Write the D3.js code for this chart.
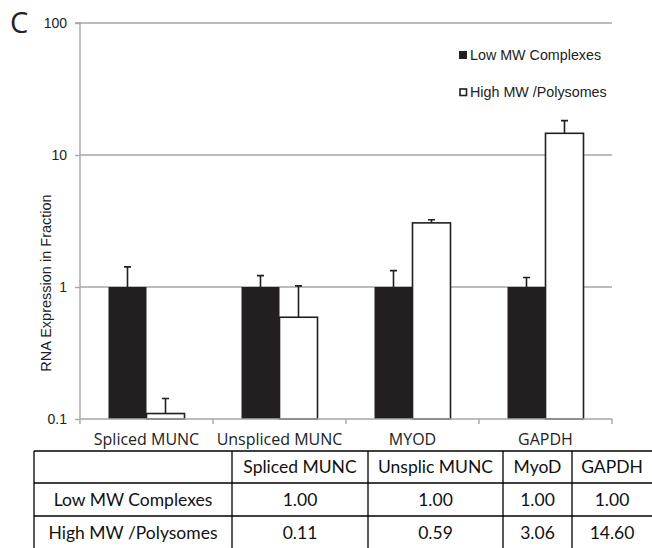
<!DOCTYPE html>
<html><head><meta charset="utf-8">
<script src="https://cdn.jsdelivr.net/npm/d3@7"></script>
<style>body{margin:0;background:#fff}svg{display:block}</style>
</head><body>
<svg id="c" width="652" height="548"></svg>
<script>
const categories = ["Spliced MUNC","Unspliced MUNC","MYOD","GAPDH"];
const seriesNames = ["Low MW Complexes","High MW /Polysomes"];
const lowValues = [1.00,1.00,1.00,1.00];
const highValues = [0.11,0.59,3.06,14.60];
const lowErrors = [0.42,0.22,0.33,0.18];
const highErrors = [0.033,0.43,0.17,3.6];
const yTicks = [0.1,1,10,100];
const tableHeaders = ["Spliced MUNC","Unsplic MUNC","MyoD","GAPDH"];

const svg = d3.select("#c");
const L=80,R=612,T=23,B=419;
const y = d3.scaleLog().domain([0.1,100]).range([B,T]);
const x0 = d3.scaleBand().domain(categories).range([L,R]).padding(0);
const x1 = d3.scaleBand().domain(seriesNames).range([0,x0.bandwidth()]).paddingInner(0).paddingOuter(0.75);
const grey="#a6a6a6";

// panel letter
svg.append("text").attr("x",10).attr("y",33).attr("font-family","Open Sans").attr("font-size",29).attr("fill","#222").text("C");

// gridlines
svg.append("g").selectAll("line").data(yTicks.slice(1)).join("line")
  .attr("x1",L).attr("x2",R).attr("y1",d=>y(d)).attr("y2",d=>y(d))
  .attr("stroke",grey).attr("stroke-width",1.4);

// y axis
const yAxis = d3.axisLeft(y).tickValues(yTicks).tickFormat(d=>String(d)).tickSize(5).tickPadding(8);
const gy = svg.append("g").attr("transform",`translate(${L},0)`).call(yAxis);
gy.select(".domain").attr("stroke",grey).attr("stroke-width",1.4).attr("d",`M-5,${T}H0V${B}`);
gy.selectAll(".tick line").attr("stroke",grey).attr("stroke-width",1.4);
gy.selectAll(".tick text").attr("font-family","Liberation Sans").attr("font-size",14).attr("fill","#222");

svg.append("text").attr("transform",`translate(51,${(193+373)/2}) rotate(-90)`)
  .attr("text-anchor","middle").attr("font-family","Liberation Sans").attr("font-size",14.5).attr("fill","#222")
  .text("RNA Expression in Fraction");

// bars
const data = categories.map((c,i)=>({c, vals:[
  {s:seriesNames[0], v:lowValues[i], e:lowErrors[i]},
  {s:seriesNames[1], v:highValues[i], e:highErrors[i]}]}));
const g = svg.append("g").selectAll("g").data(data).join("g").attr("transform",d=>`translate(${x0(d.c)},0)`);
g.selectAll("rect").data(d=>d.vals).join("rect")
  .attr("x",d=>x1(d.s)).attr("width",x1.bandwidth())
  .attr("y",d=>y(d.v)).attr("height",d=>B-y(d.v))
  .attr("fill",(d,i)=>i===0?"#231f20":"#fff")
  .attr("stroke",(d,i)=>i===0?"none":"#231f20").attr("stroke-width",1.6);
// error bars
g.selectAll("path.err").data(d=>d.vals).join("path").attr("class","err")
  .attr("d",d=>{const cx=x1(d.s)+x1.bandwidth()/2, yt=y(d.v+d.e); return `M${cx},${y(d.v)}V${yt}M${cx-3.5},${yt}H${cx+3.5}`;})
  .attr("stroke","#231f20").attr("stroke-width",1.6).attr("fill","none");

// x axis
const gx = svg.append("g").attr("transform",`translate(0,${B})`);
gx.append("line").attr("x1",L).attr("x2",R).attr("stroke",grey).attr("stroke-width",1.6);
gx.selectAll("line.t").data(categories.concat([null])).join("line").attr("class","t")
  .attr("x1",(d,i)=>L+i*x0.step()).attr("x2",(d,i)=>L+i*x0.step()).attr("y1",0).attr("y2",5)
  .attr("stroke",grey).attr("stroke-width",1.4);
gx.selectAll("text").data(categories).join("text")
  .attr("x",d=>x0(d)+x0.bandwidth()/2).attr("y",25.5).attr("text-anchor","middle")
  .attr("font-family","Open Sans").attr("font-size",16).attr("fill","#222").text(d=>d);

// legend
const lg = svg.append("g");
seriesNames.forEach((s,i)=>{
  const yy = 51 + i*37;
  lg.append("rect").attr("x",i===0?459:460).attr("y",i===0?yy:yy+1).attr("width",i===0?8:6.5).attr("height",i===0?8:6.5)
    .attr("fill",i===0?"#231f20":"#fff").attr("stroke",i===0?"none":"#231f20").attr("stroke-width",1.6);
  lg.append("text").attr("x",470).attr("y",yy+9).attr("font-family","Liberation Sans").attr("font-size",14.3).attr("fill","#222").text(s);
});

// table
const colX = [34,232,368,503,572,660];
const rowY = [451,483,516,549];
const tg = svg.append("g");
rowY.forEach(r=>tg.append("line").attr("x1",colX[0]).attr("x2",colX[5]).attr("y1",r).attr("y2",r).attr("stroke","#000").attr("stroke-width",1.3));
colX.forEach((c,i)=>tg.append("line").attr("x1",c).attr("x2",c).attr("y1",rowY[i===0?1:0]).attr("y2",rowY[3]).attr("stroke","#000").attr("stroke-width",1.3));
tg.append("line").attr("x1",colX[0]).attr("x2",colX[0]).attr("y1",rowY[0]).attr("y2",rowY[1]).attr("stroke","#000").attr("stroke-width",1.3);
const cells = [];
tableHeaders.forEach((h,j)=>cells.push({r:0,c:j+1,t:h}));
[lowValues,highValues].forEach((vals,i)=>{
  cells.push({r:i+1,c:0,t:seriesNames[i]});
  vals.forEach((v,j)=>cells.push({r:i+1,c:j+1,t:v.toFixed(2)}));
});
tg.selectAll("text").data(cells).join("text")
  .attr("x",d=>d.c===4?(colX[4]+648)/2+2:(colX[d.c]+colX[d.c+1])/2)
  .attr("y",d=>(rowY[d.r]+rowY[d.r+1])/2+6)
  .attr("text-anchor","middle").attr("font-family","Lato").attr("font-size",17.5).attr("fill","#111").text(d=>d.t);
</script>
</body></html>
